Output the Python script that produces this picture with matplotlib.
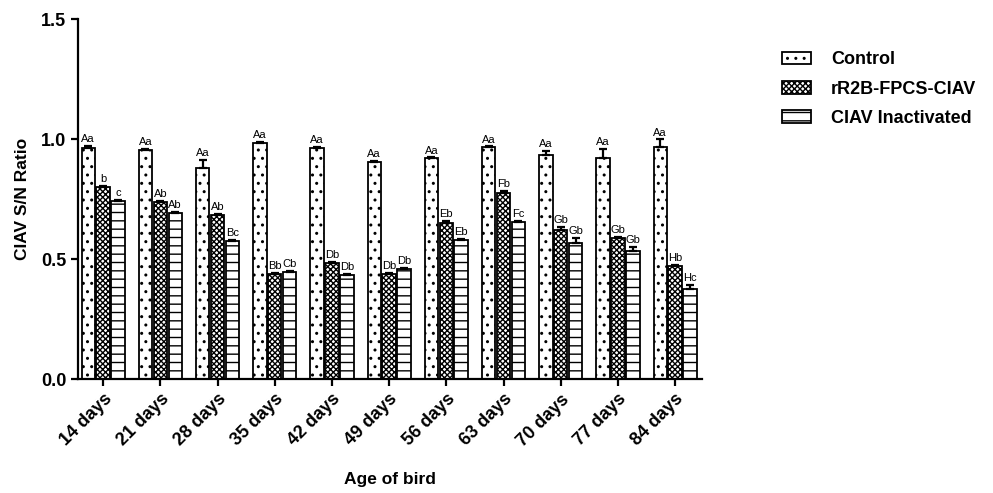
import numpy as np
import matplotlib
matplotlib.use('Agg')
import matplotlib.pyplot as plt
import matplotlib.patches as mpatches

plt.rcParams['font.family'] = ['Liberation Sans', 'DejaVu Sans']
plt.rcParams['hatch.linewidth'] = 1.0

ages = ['14 days', '21 days', '28 days', '35 days', '42 days', '49 days',
        '56 days', '63 days', '70 days', '77 days', '84 days']
series = ['Control', 'rR2B-FPCS-CIAV', 'CIAV Inactivated']

control = [0.961, 0.954, 0.878, 0.982, 0.961, 0.906, 0.919, 0.965, 0.933, 0.919, 0.965]
control_err = [0.010, 0.005, 0.035, 0.004, 0.005, 0.004, 0.004, 0.004, 0.017, 0.039, 0.033]
vaccine = [0.801, 0.737, 0.683, 0.436, 0.482, 0.436, 0.651, 0.776, 0.621, 0.586, 0.471]
vaccine_err = [0.003, 0.003, 0.003, 0.004, 0.004, 0.004, 0.008, 0.006, 0.011, 0.006, 0.006]
inact = [0.742, 0.693, 0.576, 0.447, 0.433, 0.458, 0.579, 0.655, 0.568, 0.535, 0.374]
inact_err = [0.003, 0.003, 0.004, 0.004, 0.004, 0.004, 0.003, 0.003, 0.018, 0.016, 0.018]

control_lbl = ['Aa'] * 11
vaccine_lbl = ['b', 'Ab', 'Ab', 'Bb', 'Db', 'Db', 'Eb', 'Fb', 'Gb', 'Gb', 'Hb']
inact_lbl = ['c', 'Ab', 'Bc', 'Cb', 'Db', 'Db', 'Eb', 'Fc', 'Gb', 'Gb', 'Hc']

hatches = ['..', 'xxxxxx', '--']

fig = plt.figure(figsize=(9.93, 4.93), dpi=100)
ax = fig.add_axes([78/993, 1-379/493, (702-78)/993, (379-19)/493])

x = np.arange(len(ages))
w = 0.235
step = 0.26
data = [(control, control_err, control_lbl),
        (vaccine, vaccine_err, vaccine_lbl),
        (inact, inact_err, inact_lbl)]
handles = []
for i, (vals, errs, lbls) in enumerate(data):
    pos = x + (i - 1) * step
    ax.bar(pos, vals, width=w, color='white', edgecolor='black',
           linewidth=1.3, hatch=hatches[i], label=series[i], zorder=2)
    ax.errorbar(pos, vals, yerr=[np.zeros(len(vals)), errs], fmt='none',
                ecolor='black', elinewidth=1.6, capsize=3, capthick=1.6, zorder=3)
    for p, v, e, t in zip(pos, vals, errs, lbls):
        ax.text(p, v + e + 0.008, t, ha='center', va='bottom', fontsize=8)
    handles.append(mpatches.Patch(facecolor='white', edgecolor='black',
                                  hatch=hatches[i], linewidth=1.3, label=series[i]))

ax.set_xlim(-0.44, 10.47)
ax.set_ylim(0, 1.5)
ax.set_yticks([0.0, 0.5, 1.0, 1.5])
ax.set_yticklabels(['0.0', '0.5', '1.0', '1.5'], fontweight='bold', fontsize=13)
ax.set_xticks(x)
ax.set_xticklabels(ages, rotation=45, ha='right', rotation_mode='anchor',
                   fontweight='bold', fontsize=13)
ax.spines['top'].set_visible(False)
ax.spines['right'].set_visible(False)
ax.spines['left'].set_linewidth(1.6)
ax.spines['bottom'].set_linewidth(1.6)
ax.tick_params(axis='both', width=1.6, length=5, direction='out')
ax.set_ylabel('CIAV S/N Ratio', fontweight='bold', fontsize=12.5, labelpad=8)
ax.set_xlabel('Age of bird', fontweight='bold', fontsize=12.5, labelpad=16)

fig.legend(handles=handles, loc='upper left', bbox_to_anchor=(766/993, 1-35/493),
           frameon=False, prop={'weight': 'bold', 'size': 13},
           handlelength=1.6, handleheight=0.7, labelspacing=0.68, handletextpad=1.1)

fig.savefig('out.png', dpi=100)
